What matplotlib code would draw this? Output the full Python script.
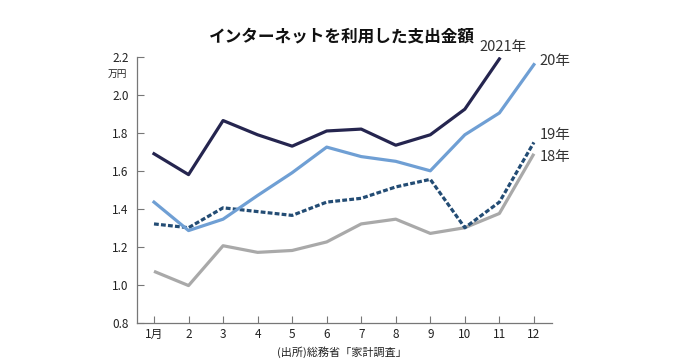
import matplotlib
matplotlib.use("Agg")
import matplotlib.pyplot as plt

plt.rcParams['font.family'] = ['Noto Sans CJK JP', 'DejaVu Sans']

months = list(range(1, 13))
month_labels = ['1月', '2', '3', '4', '5', '6', '7', '8', '9', '10', '11', '12']

y2021 = [1.69, 1.58, 1.865, 1.79, 1.73, 1.81, 1.82, 1.735, 1.79, 1.925, 2.19]
y2020 = [1.435, 1.285, 1.345, 1.47, 1.59, 1.725, 1.675, 1.65, 1.60, 1.79, 1.905, 2.16]
y2019 = [1.32, 1.30, 1.405, 1.385, 1.365, 1.435, 1.455, 1.515, 1.555, 1.30, 1.435, 1.75]
y2018 = [1.07, 0.995, 1.205, 1.17, 1.18, 1.225, 1.32, 1.345, 1.27, 1.30, 1.375, 1.69]

fig = plt.figure(figsize=(6.83, 3.62), dpi=100)
ax = fig.add_axes([0.2006, 0.109, 0.6074, 0.7335])

ax.plot(months, y2018, color='#a9a9a9', lw=2.3, solid_capstyle='butt')
ax.plot(months, y2019, color='#234c74', lw=2.3, ls=(0, (1.5, 0.7)))
ax.plot(months, y2020, color='#6f9fd4', lw=2.3)
ax.plot(months[:11], y2021, color='#25254f', lw=2.3)

ax.set_xlim(0.508, 12.52)
ax.set_ylim(0.8, 2.2)
ax.set_xticks(months)
ax.set_xticklabels(month_labels)
ax.set_yticks([0.8, 1.0, 1.2, 1.4, 1.6, 1.8, 2.0, 2.2])
ax.set_yticklabels(['0.8', '1.0', '1.2', '1.4', '1.6', '1.8', '2.0', '2.2'])
ax.tick_params(direction='in', length=5, width=0.8, color='#777777',
               labelsize=8.5, labelcolor='#222222', pad=4)
ax.tick_params(axis='y', pad=6)
for s in ['top', 'right']:
    ax.spines[s].set_visible(False)
for s in ['left', 'bottom']:
    ax.spines[s].set_color('#777777')
    ax.spines[s].set_linewidth(0.9)

lab = dict(fontsize=10.5, va='center', color='#333333', clip_on=False)
ax.text(11.1, 2.253, '2021年', ha='center', **lab)
ax.text(12.17, 2.179, '20年', ha='left', **lab)
ax.text(12.17, 1.788, '19年', ha='left', **lab)
ax.text(12.17, 1.672, '18年', ha='left', **lab)
ax.text(-0.07, 2.11, '万円', fontsize=7, va='center', ha='center', color='#222222',
        clip_on=False)

fig.text(0.5007, 0.9, 'インターネットを利用した支出金額', fontsize=12, fontweight='bold',
         ha='center', va='center', color='#111111')
fig.text(0.5, 0.028, '(出所)総務省「家計調査」', fontsize=8, ha='center', va='center',
         color='#222222')

fig.savefig('out.png', dpi=100)
